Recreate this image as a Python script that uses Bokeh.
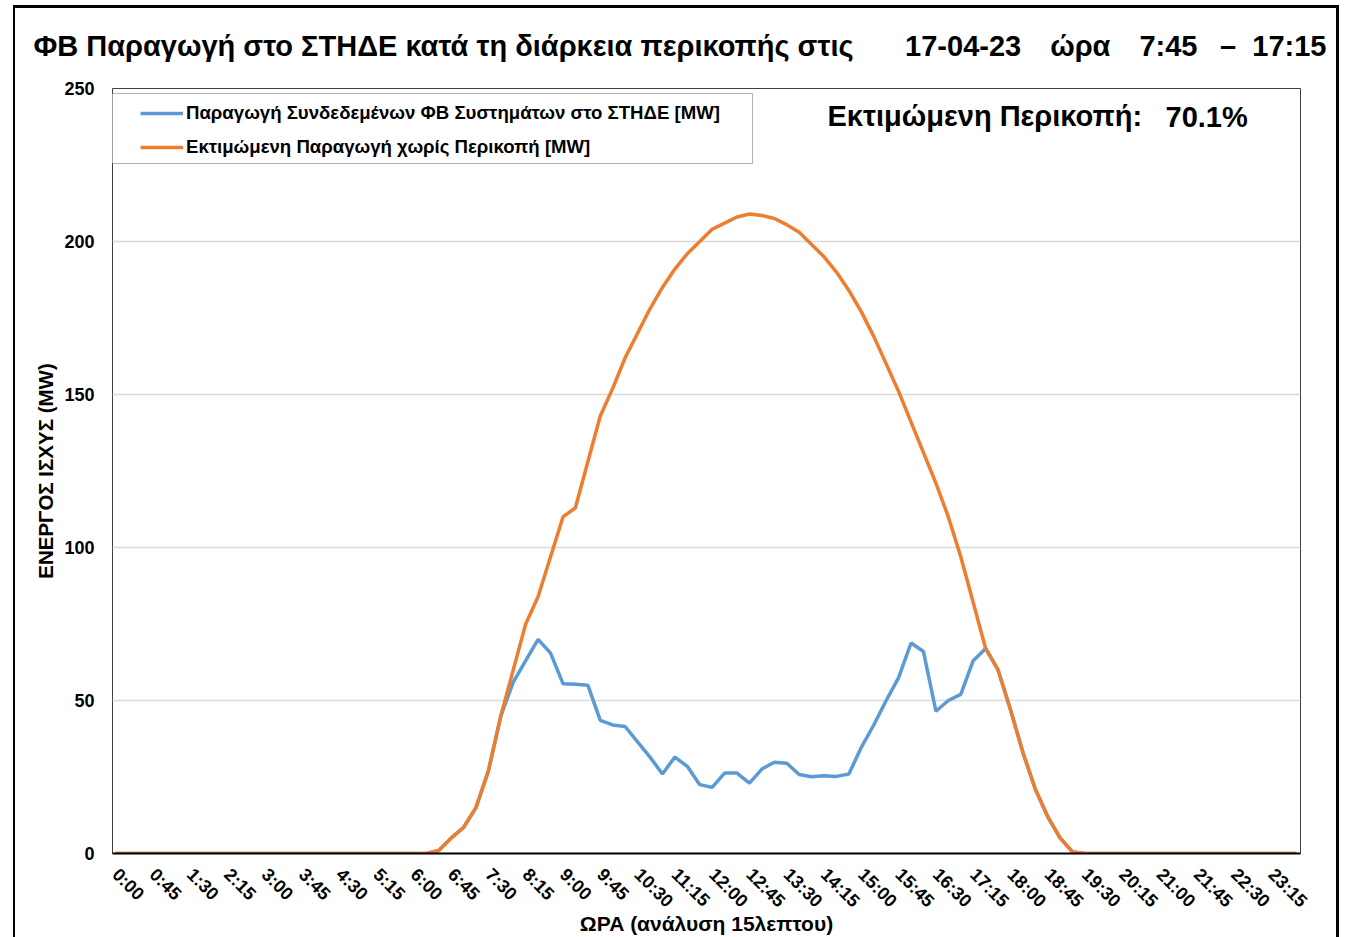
import math
from bokeh.plotting import figure
from bokeh.models import (Range1d, FixedTicker, Legend, LegendItem, Label,
                          BoxAnnotation, ColumnDataSource, InlineStyleSheet)
from bokeh.embed import file_html
from bokeh.resources import INLINE

# ---------------- data ----------------
times = [f"{h}:{m:02d}" for h in range(24) for m in (0, 15, 30, 45)]

estimated = [0] * 26 + [
    1, 5, 8.5, 15, 27, 45, 60, 75, 84, 97,
    110, 113, 128, 143, 152, 162, 170, 178, 185, 191,
    196, 200, 204, 206, 208, 209, 208.5, 207.5, 205.5, 203,
    199, 195, 190, 184, 177, 169, 160, 151, 141, 131,
    121, 110, 97, 82, 67, 60, 47, 33, 21, 12,
    5, 0.5] + [0] * 18

actual = [0] * 26 + [
    1, 5, 8.5, 15, 27, 45, 56, 63, 70, 65.5,
    55.5, 55.3, 55, 43.5, 42, 41.5, 36.5, 31.5, 26, 31.5,
    28.5, 22.5, 21.6, 26.3, 26.3, 23, 27.6, 29.8, 29.5, 25.8,
    25.1, 25.4, 25.2, 26, 34.7, 42, 50, 57.5, 68.8, 66,
    46.5, 50, 52, 63, 67, 60, 47, 33, 21, 12,
    5, 0.5] + [0] * 18

y_ticks = [0, 50, 100, 150, 200, 250]
x_tick_idx = list(range(0, 96, 3))

title_text = "ΦΒ Παραγωγή στο ΣΤΗΔΕ κατά τη διάρκεια περικοπής στις"
date_text = "17-04-23"
hour_word = "ώρα"
start_time = "7:45"
end_time = "17:15"
curtail_label = "Εκτιμώμενη Περικοπή:"
curtail_value = "70.1%"
label_actual = "Παραγωγή Συνδεδεμένων ΦΒ Συστημάτων στο ΣΤΗΔΕ [MW]"
label_est = "Εκτιμώμενη Παραγωγή χωρίς Περικοπή [MW]"
y_title = "ΕΝΕΡΓΟΣ ΙΣΧΥΣ (MW)"
x_title = "ΩΡΑ (ανάλυση 15λεπτου)"

FONT = "Liberation Sans"

# non-collapsing spaces used to lay out the title row
EM, EN, FIG, PUN = "\u2003", "\u2002", "\u2007", "\u2008"
title_row = (title_text + EM + EN + PUN + date_text + EM + hour_word + EM
             + start_time + EN + PUN + "–" + FIG + end_time)

src = ColumnDataSource(dict(x=list(range(len(times))), t=times,
                            estimated=estimated, actual=actual))

p = figure(width=1348, height=945, output_backend="svg", toolbar_location=None,
           x_range=Range1d(-0.24, 95.33), y_range=Range1d(0, 250),
           min_border_left=112, min_border_right=48,
           min_border_top=87, min_border_bottom=92)

p.background_fill_color = "white"
p.border_fill_color = "white"
p.outline_line_color = "#404040"
p.outline_line_width = 1

# outer chart border (drawn with CSS, does not take layout space)
p.stylesheets = [InlineStyleSheet(css="""
:host { position: relative; }
:host::after {
  content: ""; position: absolute; left: 13px; top: 5px;
  width: 1326px; height: 940px; box-sizing: border-box;
  border-left: 2px solid black; border-top: 3px solid black;
  border-right: 3px solid black; border-bottom: none;
  pointer-events: none; z-index: 10;
}
""")]

# title row
p.title.text = title_row
p.title.align = "left"
p.title.offset = -79
p.title.standoff = 54
p.title.text_font = FONT
p.title.text_font_style = "bold"
p.title.text_font_size = "29px"
p.title.text_color = "black"

p.xgrid.grid_line_color = None
p.ygrid.grid_line_color = "#d9d9d9"
p.ygrid.grid_line_width = 1.5

# y axis
p.yaxis.ticker = FixedTicker(ticks=y_ticks)
p.yaxis.axis_line_color = None
p.yaxis.major_tick_line_color = None
p.yaxis.major_tick_out = 0
p.yaxis.major_tick_in = 0
p.yaxis.minor_tick_line_color = None
p.yaxis.major_label_standoff = 18
p.yaxis.major_label_text_font = FONT
p.yaxis.major_label_text_font_style = "bold"
p.yaxis.major_label_text_font_size = "18px"
p.yaxis.major_label_text_color = "black"
p.yaxis.axis_label = y_title
p.yaxis.axis_label_text_font = FONT
p.yaxis.axis_label_text_font_style = "bold"
p.yaxis.axis_label_text_font_size = "20.5px"
p.yaxis.axis_label_text_color = "black"
p.yaxis.axis_label_standoff = 4

# x axis
p.xaxis.ticker = FixedTicker(ticks=x_tick_idx)
p.xaxis.major_label_overrides = {i: times[i] for i in x_tick_idx}
p.xaxis.major_label_orientation = -math.pi / 4
p.xaxis.axis_line_color = "black"
p.xaxis.axis_line_width = 2
p.xaxis.major_tick_line_color = None
p.xaxis.major_tick_out = 0
p.xaxis.major_tick_in = 0
p.xaxis.minor_tick_line_color = None
p.xaxis.major_label_standoff = 18
p.xaxis.major_label_text_font = FONT
p.xaxis.major_label_text_font_style = "bold"
p.xaxis.major_label_text_font_size = "18px"
p.xaxis.major_label_text_color = "black"
p.xaxis.axis_label = x_title
p.xaxis.axis_label_text_font = FONT
p.xaxis.axis_label_text_font_style = "bold"
p.xaxis.axis_label_text_font_size = "21px"
p.xaxis.axis_label_text_color = "black"
p.xaxis.axis_label_standoff = -9

# series
r_act = p.line(x="x", y="actual", source=src, line_color="#5b9bd5", line_width=3.5)
r_est = p.line(x="x", y="estimated", source=src, line_color="#ed7d31", line_width=3.5)

# legend frame
p.add_layout(BoxAnnotation(left=110, right=752, top=93, bottom=163,
                           left_units="canvas", right_units="canvas",
                           top_units="canvas", bottom_units="canvas",
                           fill_color="white", fill_alpha=1,
                           line_color="black", line_width=1))

legend = Legend(items=[LegendItem(label=label_actual, renderers=[r_act]),
                       LegendItem(label=label_est, renderers=[r_est])],
                location=(22, 689), padding=6, spacing=12, margin=0,
                glyph_width=43, glyph_height=20, label_standoff=3,
                label_text_font=FONT, label_text_font_style="bold",
                label_text_font_size="18.6px", label_text_color="black",
                background_fill_alpha=0, border_line_alpha=0)
p.add_layout(legend)

def add_text(txt, x, y, size, align="left"):
    p.add_layout(Label(x=x, y=y, x_units="canvas", y_units="canvas", text=txt,
                       text_font=FONT, text_font_style="bold",
                       text_font_size=size, text_color="black",
                       text_align=align, text_baseline="middle"))

add_text(curtail_label, 827, 115, "29px")
add_text(curtail_value, 1165, 116, "29px")

open("out.html", "w").write(file_html(p, INLINE))
